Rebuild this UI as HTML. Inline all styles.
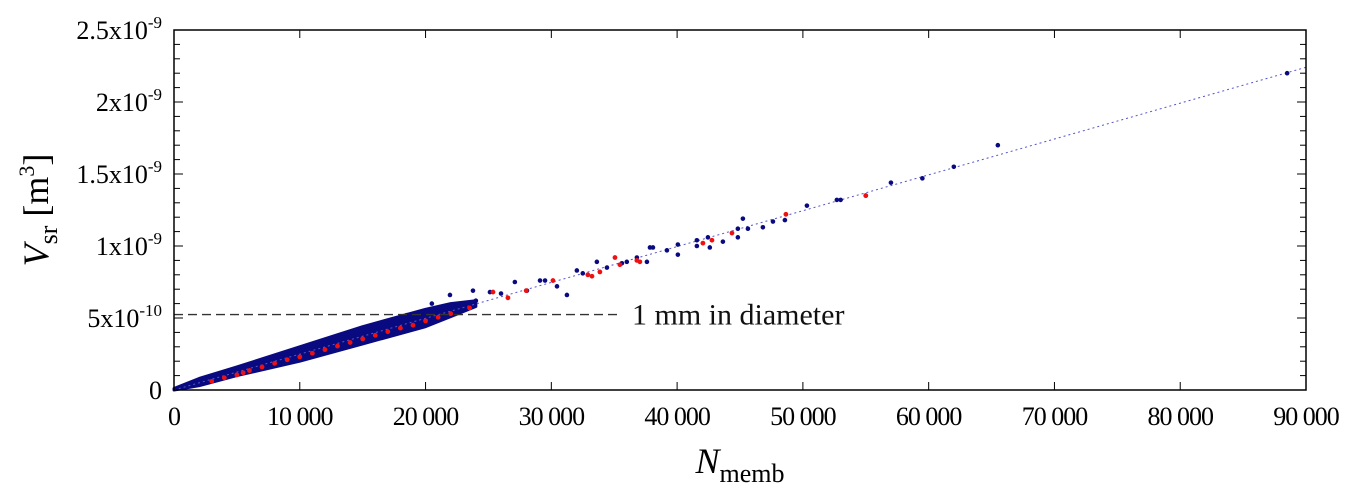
<!DOCTYPE html>
<html><head><meta charset="utf-8"><style>
body{margin:0;background:#fff;}
svg{display:block;font-family:"Liberation Serif",serif;}
</style></head><body>
<svg id="c" width="1362" height="493"></svg>
<script>
const xTicks=[0,10000,20000,30000,40000,50000,60000,70000,80000,90000];
const xTickLabels=["0","10 000","20 000","30 000","40 000","50 000","60 000","70 000","80 000","90 000"];
const yTicks=[0,5e-10,1e-9,1.5e-9,2e-9,2.5e-9];
const yTickBases=["0","5x10","1x10","1.5x10","2x10","2.5x10"];
const yTickExps=["","-10","-9","-9","-9","-9"];
const bandX=[0,2000,5000,10000,15000,20000,22000,24000];
const bandLow=[0,0.3,1.0,2.0,3.2,4.4,5.1,5.8];
const bandHigh=[0.1,0.8,1.6,3.0,4.4,5.6,6.0,6.2];
const blueX=[12000,14000,16500,18500,19500,20500,21000,21940,22500,23770,24000,25120,26000,27100,28060,29100,29500,30450,31240,32030,32500,33620,34420,35610,36000,36800,37600,37840,38080,39190,40060,40060,41570,41570,42450,42600,43640,44830,44830,45230,45630,46820,47620,48570,50320,52700,53000,55000,57000,59500,62000,65500,88500];
const blueY=[3.4,4.0,4.6,5.2,5.3,6.0,5.7,6.6,5.9,6.9,6.2,6.8,6.7,7.5,6.9,7.6,7.6,7.2,6.6,8.3,8.1,8.9,8.5,8.8,8.9,9.2,8.9,9.9,9.9,9.7,10.1,9.4,10.4,10.0,10.6,9.9,10.3,11.2,10.6,11.9,11.2,11.3,11.7,11.8,12.8,13.2,13.2,13.5,14.4,14.7,15.5,17.0,22.0];
const redX=[3000,4000,5000,5500,6000,7000,8000,9000,10000,11000,12000,13000,14000,15000,16000,17000,18000,19000,20000,21000,22000,23500,25360,26550,28000,30130,32900,33230,33860,35060,35450,36800,37040,42050,42770,44360,48650,55000];
const redY=[0.6,0.85,1.05,1.2,1.35,1.6,1.85,2.1,2.3,2.55,2.8,3.05,3.3,3.55,3.8,4.05,4.3,4.5,4.8,5.05,5.3,5.7,6.8,6.4,6.9,7.6,8.0,7.9,8.2,9.2,8.7,9.0,8.9,10.2,10.4,10.9,12.2,13.5];
const fitSlope=2.49e-14;
const refVolume=5.24e-10;

const L=174,R=1306,T=30,B=390;
const sx=v=>L+(v/90000)*(R-L);
const sy=v=>B-(v/2.5e-9)*(B-T);
const svg=document.getElementById('c');
const NS='http://www.w3.org/2000/svg';
function mk(t,a,p){const e=document.createElementNS(NS,t);for(const k in a)e.setAttribute(k,a[k]);(p||svg).appendChild(e);return e;}

let pts=[];
bandX.forEach((x,i)=>pts.push(sx(x)+','+sy(bandHigh[i]*1e-10)));
for(let i=bandX.length-1;i>=0;i--)pts.push(sx(bandX[i])+','+sy(bandLow[i]*1e-10));
const band=mk('polygon',{points:pts.join(' '),fill:'#0a0a80',stroke:'#0a0a80','stroke-width':3,'stroke-linejoin':'round'});



const fit=mk('line',{x1:sx(0),y1:sy(0),x2:R,y2:sy(fitSlope*90000),stroke:'#5555cc','stroke-width':1,'stroke-dasharray':'2,3'});



blueX.forEach((x,i)=>{
  const c=mk('circle',{cx:sx(x),cy:sy(blueY[i]*1e-10),r:2.3,fill:'#0a0a80'});
  
  
});
redX.forEach((x,i)=>{
  const c=mk('circle',{cx:sx(x),cy:sy(redY[i]*1e-10),r:2.4,fill:'#ee1111'});
  
  
});

const ref=mk('line',{x1:L,y1:sy(refVolume),x2:620,y2:sy(refVolume),stroke:'#333','stroke-width':1.3,'stroke-dasharray':'9,5'});


const rl=mk('text',{x:632,y:sy(refVolume)+10,'font-size':30,fill:'#111'});
rl.textContent='1 mm in diameter';



const fr=mk('rect',{x:L,y:T,width:R-L,height:B-T,fill:'none',stroke:'#000','stroke-width':1.5});



for(let k=0;k<=25;k++){
  const y=sy(k*1e-10),len=(k%5==0)?9:6;
  mk('line',{x1:L,y1:y,x2:L+len,y2:y,stroke:'#000'});
  mk('line',{x1:R,y1:y,x2:R-len,y2:y,stroke:'#000'});
}
xTicks.forEach((v,i)=>{
  const x=sx(v);
  mk('line',{x1:x,y1:B,x2:x,y2:B-8,stroke:'#000'});
  mk('line',{x1:x,y1:T,x2:x,y2:T+8,stroke:'#000'});
  const t=mk('text',{x:x,y:B+35,'font-size':26,'text-anchor':'middle',fill:'#000','letter-spacing':'-1'});
  t.textContent=xTickLabels[i];
  
  
});
yTicks.forEach((v,i)=>{
  const y=sy(v);
  const t=mk('text',{x:162,y:y+9,'font-size':26,'text-anchor':'end',fill:'#000'});
  t.textContent=yTickBases[i];
  if(yTickExps[i]){
    const s=mk('tspan',{dy:-11,'font-size':17},t);s.textContent=yTickExps[i];
  }
  
  
});

const xt=mk('text',{x:740,y:473,'font-size':36,'text-anchor':'middle',fill:'#000'});
xt.innerHTML='<tspan font-style="italic">N</tspan><tspan font-size="26" dy="9">memb</tspan>';


const yt=mk('text',{x:0,y:0,'font-size':36,'text-anchor':'middle',fill:'#000',transform:'translate(48,210) rotate(-90)'});
yt.innerHTML='<tspan font-style="italic">V</tspan><tspan font-size="26" dy="9">sr</tspan><tspan dy="-9"> [m</tspan><tspan font-size="22" dy="-14">3</tspan><tspan dy="14">]</tspan>';


</script>
</body></html>
